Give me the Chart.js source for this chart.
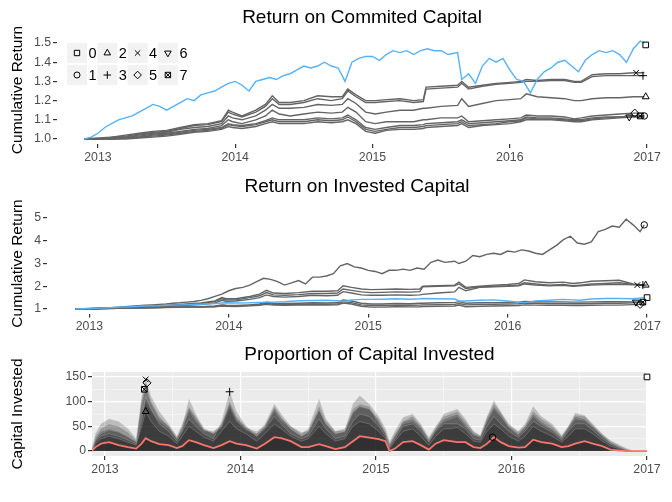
<!DOCTYPE html>
<html>
<head>
<meta charset="utf-8">
<script src="https://cdn.jsdelivr.net/npm/chart.js"></script>
<style>
  body { margin: 0; background: #fff; }
  #wrap { position: relative; width: 672px; height: 502px; }
  canvas { position: absolute; left: 0; }
</style>
</head>
<body>
<div id="wrap">
  <canvas id="committed" width="672" height="168" style="top:0"></canvas>
  <canvas id="invested" width="672" height="170" style="top:168px"></canvas>
  <canvas id="proportion" width="672" height="164" style="top:338px"></canvas>
</div>
<script>
const FONT = "'Liberation Sans', Arial, sans-serif";
const BLUE = '#56B1F7';
const GREY = '#646464';
const RED = '#F8766D';

// series keys and their point shapes
const seriesNames = ['0', '1', '2', '3', '4', '5', '6', '7'];
const seriesShapes = ['rect', 'circle', 'triangle', 'cross', 'crossRot', 'rectRot', 'triangle', 'rect'];
const shapeRotation = [0, 0, 0, 0, 0, 0, 180, 0];

const yearTicks = [2013, 2014, 2015, 2016, 2017];
const yearLabels = ['2013', '2014', '2015', '2016', '2017'];
const halfYears = [2013.5, 2014.5, 2015.5, 2016.5];

// dates (decimal years) for the benchmark line and the biggest invested line
const tBench = [
  2012.90, 2012.95, 2013.00, 2013.05, 2013.10, 2013.15, 2013.20, 2013.25, 2013.30, 2013.35,
  2013.40, 2013.45, 2013.50, 2013.55, 2013.60, 2013.65, 2013.70, 2013.75, 2013.80, 2013.85,
  2013.90, 2013.95, 2014.00, 2014.05, 2014.10, 2014.15, 2014.20, 2014.25, 2014.30, 2014.35,
  2014.40, 2014.45, 2014.50, 2014.55, 2014.60, 2014.65, 2014.70, 2014.75, 2014.80, 2014.85,
  2014.90, 2014.95, 2015.00, 2015.05, 2015.10, 2015.15, 2015.20, 2015.25, 2015.30, 2015.35,
  2015.40, 2015.45, 2015.50, 2015.55, 2015.62, 2015.65, 2015.70, 2015.75, 2015.80, 2015.85,
  2015.90, 2015.95, 2016.00, 2016.05, 2016.10, 2016.15, 2016.20, 2016.25, 2016.30, 2016.35,
  2016.40, 2016.45, 2016.50, 2016.55, 2016.60, 2016.65, 2016.70, 2016.75, 2016.80, 2016.85,
  2016.90, 2016.95, 2016.98
];

// dates for the other strategy lines
const tStrat = [
  2012.90, 2013.00, 2013.10, 2013.20, 2013.30, 2013.40, 2013.50, 2013.60, 2013.70, 2013.80,
  2013.90, 2013.95, 2013.98, 2014.05, 2014.15, 2014.22, 2014.27, 2014.32, 2014.40, 2014.50,
  2014.60, 2014.70, 2014.78, 2014.82, 2014.88, 2014.95, 2015.02, 2015.10, 2015.20, 2015.30,
  2015.37, 2015.39, 2015.50, 2015.62, 2015.65, 2015.70, 2015.80, 2015.90, 2016.00, 2016.08,
  2016.12, 2016.20, 2016.30, 2016.40, 2016.47, 2016.52, 2016.60, 2016.70, 2016.80, 2016.90,
  2016.98
];

// return on committed capital
const committed0 = [
  1.00, 1.01, 1.03, 1.06, 1.08, 1.10, 1.11, 1.12, 1.14, 1.16,
  1.18, 1.17, 1.15, 1.17, 1.19, 1.21, 1.20, 1.23, 1.24, 1.25,
  1.27, 1.29, 1.30, 1.28, 1.25, 1.30, 1.31, 1.32, 1.31, 1.33,
  1.34, 1.36, 1.38, 1.37, 1.38, 1.40, 1.38, 1.37, 1.30, 1.40,
  1.42, 1.43, 1.43, 1.41, 1.44, 1.46, 1.45, 1.46, 1.44, 1.46,
  1.47, 1.46, 1.46, 1.44, 1.45, 1.31, 1.34, 1.29, 1.38, 1.42,
  1.40, 1.42, 1.36, 1.31, 1.30, 1.24, 1.31, 1.35, 1.37, 1.40,
  1.41, 1.38, 1.35, 1.41, 1.44, 1.46, 1.45, 1.46, 1.44, 1.40,
  1.47, 1.51, 1.50
];
const committed1 = [
  1.00, 1.00, 1.00, 1.005, 1.01, 1.02, 1.025, 1.035, 1.045, 1.05,
  1.06, 1.08, 1.075, 1.07, 1.08, 1.095, 1.11, 1.10, 1.10, 1.10,
  1.11, 1.105, 1.11, 1.125, 1.10, 1.06, 1.05, 1.06, 1.07, 1.07,
  1.075, 1.08, 1.085, 1.09, 1.10, 1.08, 1.085, 1.09, 1.095, 1.10,
  1.115, 1.11, 1.11, 1.105, 1.10, 1.10, 1.11, 1.115, 1.115, 1.12,
  1.12
];
const committed2 = [
  1.00, 1.00, 1.005, 1.01, 1.02, 1.03, 1.035, 1.05, 1.06, 1.065,
  1.08, 1.12, 1.11, 1.10, 1.12, 1.15, 1.18, 1.16, 1.16, 1.165,
  1.18, 1.175, 1.18, 1.21, 1.185, 1.14, 1.13, 1.14, 1.15, 1.15,
  1.16, 1.16, 1.17, 1.175, 1.21, 1.17, 1.185, 1.20, 1.205, 1.21,
  1.235, 1.22, 1.215, 1.21, 1.20, 1.20, 1.21, 1.215, 1.215, 1.22,
  1.22
];
const committed3 = [
  1.00, 1.00, 1.01, 1.015, 1.025, 1.035, 1.04, 1.055, 1.07, 1.075,
  1.09, 1.14, 1.13, 1.115, 1.14, 1.17, 1.21, 1.18, 1.18, 1.19,
  1.21, 1.20, 1.21, 1.25, 1.22, 1.19, 1.19, 1.195, 1.20, 1.19,
  1.195, 1.26, 1.265, 1.27, 1.29, 1.26, 1.275, 1.285, 1.29, 1.295,
  1.30, 1.30, 1.305, 1.305, 1.295, 1.295, 1.325, 1.33, 1.33, 1.33,
  1.33
];
const committed4 = [
  1.00, 1.005, 1.01, 1.02, 1.03, 1.04, 1.045, 1.06, 1.075, 1.08,
  1.095, 1.15, 1.14, 1.12, 1.15, 1.18, 1.225, 1.19, 1.19, 1.20,
  1.225, 1.22, 1.22, 1.26, 1.23, 1.20, 1.20, 1.205, 1.21, 1.20,
  1.205, 1.27, 1.275, 1.28, 1.30, 1.27, 1.28, 1.29, 1.295, 1.30,
  1.31, 1.305, 1.31, 1.31, 1.30, 1.30, 1.335, 1.34, 1.34, 1.345,
  1.345
];
const committed5 = [
  1.00, 1.00, 1.005, 1.01, 1.015, 1.025, 1.03, 1.04, 1.05, 1.055,
  1.07, 1.10, 1.09, 1.08, 1.10, 1.12, 1.15, 1.13, 1.12, 1.13,
  1.14, 1.135, 1.14, 1.165, 1.14, 1.09, 1.08, 1.09, 1.09, 1.09,
  1.10, 1.10, 1.11, 1.11, 1.12, 1.09, 1.095, 1.10, 1.105, 1.11,
  1.125, 1.12, 1.12, 1.115, 1.105, 1.11, 1.12, 1.125, 1.13, 1.135,
  1.135
];
const committed6 = [
  1.00, 1.00, 1.00, 1.00, 1.005, 1.01, 1.015, 1.025, 1.035, 1.04,
  1.05, 1.065, 1.06, 1.055, 1.065, 1.08, 1.09, 1.08, 1.08, 1.08,
  1.09, 1.085, 1.09, 1.10, 1.08, 1.04, 1.03, 1.045, 1.05, 1.05,
  1.055, 1.06, 1.065, 1.07, 1.08, 1.06, 1.07, 1.075, 1.08, 1.09,
  1.10, 1.10, 1.10, 1.095, 1.09, 1.09, 1.10, 1.105, 1.11, 1.115,
  1.115
];
const committed7 = [
  1.00, 1.00, 1.00, 1.005, 1.01, 1.015, 1.02, 1.03, 1.04, 1.045,
  1.055, 1.075, 1.07, 1.065, 1.075, 1.09, 1.10, 1.09, 1.09, 1.09,
  1.10, 1.095, 1.10, 1.115, 1.09, 1.05, 1.04, 1.05, 1.06, 1.06,
  1.065, 1.07, 1.075, 1.08, 1.09, 1.07, 1.075, 1.08, 1.09, 1.095,
  1.11, 1.105, 1.105, 1.10, 1.095, 1.095, 1.105, 1.11, 1.115, 1.12,
  1.12
];
const committedMarkX = [2016.99, 2016.98, 2016.99, 2016.97, 2016.92, 2016.91, 2016.87, 2016.95];
const committedMarkY = [1.49, 1.12, 1.22, 1.33, 1.345, 1.135, 1.115, 1.12];

// return on invested capital
const invested0 = [
  1.00, 1.02, 1.04, 1.07, 1.10, 1.13, 1.14, 1.17, 1.19, 1.21,
  1.24, 1.26, 1.27, 1.26, 1.27, 1.29, 1.30, 1.30, 1.32, 1.36,
  1.37, 1.38, 1.36, 1.33, 1.40, 1.42, 1.42, 1.43, 1.45, 1.43,
  1.45, 1.46, 1.45, 1.44, 1.35, 1.35, 1.38, 1.40, 1.35, 1.30,
  1.28, 1.35, 1.38, 1.42, 1.40, 1.38, 1.44, 1.46, 1.46, 1.45,
  1.50
];
const invested1 = [
  1.00, 1.01, 1.02, 1.03, 1.05, 1.06, 1.08, 1.10, 1.12, 1.14,
  1.16, 1.18, 1.20, 1.22, 1.25, 1.27, 1.30, 1.33, 1.38, 1.45,
  1.55, 1.65, 1.80, 1.90, 1.95, 2.05, 2.20, 2.35, 2.30, 2.20,
  2.05, 2.15, 2.25, 2.10, 2.40, 2.40, 2.45, 2.55, 2.90, 3.00,
  2.85, 2.80, 2.70, 2.65, 2.55, 2.70, 2.70, 2.75, 2.70, 2.80,
  2.75, 3.05, 3.15, 3.05, 3.10, 3.00, 3.10, 3.35, 3.30, 3.40,
  3.45, 3.40, 3.55, 3.50, 3.60, 3.55, 3.45, 3.40, 3.60, 3.80,
  4.05, 4.20, 3.90, 3.85, 3.95, 4.40, 4.50, 4.65, 4.60, 4.95,
  4.70, 4.40, 4.70
];
const invested2 = [
  1.00, 1.01, 1.02, 1.04, 1.06, 1.08, 1.10, 1.13, 1.16, 1.19,
  1.26, 1.38, 1.34, 1.35, 1.42, 1.50, 1.62, 1.55, 1.52, 1.55,
  1.60, 1.58, 1.60, 1.76, 1.70, 1.62, 1.60, 1.60, 1.62, 1.60,
  1.62, 1.64, 1.70, 1.75, 1.95, 1.80, 1.95, 1.98, 2.00, 2.02,
  2.10, 2.05, 2.02, 2.04, 2.00, 2.02, 2.05, 2.07, 2.08, 2.06,
  2.05
];
const invested3 = [
  1.00, 1.01, 1.03, 1.05, 1.07, 1.10, 1.12, 1.16, 1.20, 1.24,
  1.32, 1.45, 1.40, 1.40, 1.50, 1.58, 1.72, 1.62, 1.60, 1.63,
  1.68, 1.68, 1.70, 1.88, 1.82, 1.75, 1.72, 1.73, 1.75, 1.74,
  1.76, 1.97, 2.00, 2.02, 2.10, 1.90, 1.97, 2.00, 2.02, 2.05,
  2.15, 2.10, 2.05, 2.08, 2.02, 2.05, 2.10, 2.12, 2.15, 2.08,
  2.05
];
const invested4 = [
  1.00, 1.01, 1.03, 1.05, 1.08, 1.11, 1.13, 1.17, 1.22, 1.26,
  1.35, 1.50, 1.45, 1.45, 1.55, 1.65, 1.82, 1.70, 1.68, 1.72,
  1.78, 1.78, 1.80, 2.02, 1.95, 1.88, 1.85, 1.86, 1.88, 1.86,
  1.88, 2.00, 2.02, 2.05, 2.18, 1.95, 2.00, 2.05, 2.08, 2.12,
  2.28, 2.20, 2.15, 2.18, 2.12, 2.15, 2.22, 2.24, 2.26, 2.10,
  2.05
];
const invested5 = [
  1.00, 1.01, 1.02, 1.03, 1.04, 1.05, 1.06, 1.07, 1.08, 1.08,
  1.10, 1.13, 1.12, 1.11, 1.14, 1.16, 1.20, 1.17, 1.16, 1.17,
  1.18, 1.17, 1.18, 1.26, 1.22, 1.12, 1.08, 1.08, 1.10, 1.09,
  1.10, 1.11, 1.12, 1.13, 1.17, 1.10, 1.12, 1.13, 1.14, 1.15,
  1.18, 1.17, 1.16, 1.16, 1.15, 1.15, 1.16, 1.17, 1.17, 1.19,
  1.20
];
const invested6 = [
  1.00, 1.01, 1.02, 1.03, 1.04, 1.05, 1.06, 1.08, 1.09, 1.10,
  1.13, 1.18, 1.16, 1.15, 1.18, 1.22, 1.30, 1.25, 1.24, 1.25,
  1.27, 1.26, 1.27, 1.40, 1.35, 1.25, 1.22, 1.22, 1.24, 1.23,
  1.25, 1.25, 1.27, 1.28, 1.32, 1.25, 1.27, 1.28, 1.29, 1.30,
  1.33, 1.32, 1.31, 1.31, 1.30, 1.30, 1.31, 1.32, 1.32, 1.31,
  1.30
];
const invested7 = [
  1.00, 1.01, 1.02, 1.03, 1.04, 1.05, 1.06, 1.07, 1.08, 1.09,
  1.11, 1.15, 1.14, 1.13, 1.16, 1.19, 1.25, 1.21, 1.20, 1.21,
  1.22, 1.21, 1.22, 1.32, 1.28, 1.18, 1.15, 1.15, 1.17, 1.16,
  1.17, 1.18, 1.19, 1.20, 1.24, 1.18, 1.20, 1.21, 1.22, 1.23,
  1.26, 1.25, 1.24, 1.24, 1.23, 1.23, 1.24, 1.25, 1.25, 1.27,
  1.30
];
const investedMarkX = [2017.0, 2016.98, 2016.99, 2016.97, 2016.93, 2016.95, 2016.92, 2016.97];
const investedMarkY = [1.5, 4.7, 2.05, 2.05, 2.05, 1.2, 1.3, 1.3];

// capital invested per strategy
const tCapital = [
  2012.90, 2012.93, 2012.97, 2013.03, 2013.10, 2013.17, 2013.23, 2013.27, 2013.30, 2013.34,
  2013.40, 2013.47, 2013.53, 2013.57, 2013.62, 2013.67, 2013.73, 2013.80, 2013.86, 2013.92,
  2013.97, 2014.04, 2014.12, 2014.18, 2014.25, 2014.30, 2014.37, 2014.45, 2014.50, 2014.58,
  2014.63, 2014.70, 2014.77, 2014.83, 2014.88, 2014.95, 2015.02, 2015.07, 2015.10, 2015.14,
  2015.20, 2015.27, 2015.33, 2015.39, 2015.44, 2015.50, 2015.55, 2015.60, 2015.66, 2015.72,
  2015.77, 2015.82, 2015.87, 2015.92, 2015.98, 2016.05, 2016.10, 2016.16, 2016.22, 2016.30,
  2016.37, 2016.42, 2016.47, 2016.54, 2016.60, 2016.67, 2016.73, 2016.80, 2016.85, 2016.90,
  2017.00
];
const capital1 = [
  0, 8, 15, 18, 12, 8, 5, 15, 26, 20,
  14, 12, 6, 10, 22, 18, 12, 6, 12, 20,
  15, 12, 5, 15, 28, 26, 20, 8, 8, 14,
  10, 4, 8, 20, 30, 27, 24, 20, 0, 5,
  18, 20, 12, 3, 15, 22, 20, 18, 18, 8,
  6, 15, 28, 18, 10, 7, 8, 23, 18, 15,
  8, 10, 15, 20, 15, 10, 3, 1, 0, 0,
  0
];
const capital2 = [
  0, 15, 25, 30, 25, 18, 12, 50, 80, 60,
  40, 30, 15, 30, 50, 40, 28, 20, 40, 60,
  45, 35, 20, 35, 55, 45, 30, 20, 25, 50,
  35, 20, 25, 50, 60, 55, 40, 25, 5, 20,
  40, 45, 30, 12, 30, 45, 45, 48, 35, 20,
  18, 40, 55, 45, 30, 20, 30, 50, 40, 30,
  18, 30, 45, 45, 35, 20, 10, 4, 1, 0,
  0
];
const capital3 = [
  0, 20, 30, 35, 30, 22, 15, 60, 110, 85,
  55, 40, 20, 40, 65, 50, 35, 25, 60, 120,
  80, 50, 30, 45, 70, 55, 35, 25, 30, 65,
  45, 25, 30, 60, 75, 70, 50, 30, 8, 25,
  50, 55, 40, 18, 40, 55, 55, 55, 45, 25,
  22, 50, 70, 55, 40, 28, 40, 60, 50, 38,
  22, 40, 55, 55, 42, 25, 14, 6, 2, 0,
  0
];
const capital4 = [
  0, 25, 40, 45, 40, 30, 20, 110, 145, 110,
  80, 55, 30, 55, 90, 70, 45, 35, 50, 100,
  70, 45, 30, 50, 90, 70, 45, 30, 40, 85,
  55, 35, 40, 80, 90, 85, 65, 40, 15, 35,
  60, 65, 50, 25, 45, 65, 70, 75, 55, 35,
  30, 65, 90, 75, 50, 35, 50, 75, 60, 45,
  28, 50, 70, 65, 50, 32, 18, 8, 3, 0,
  0
];
const capital5 = [
  0, 22, 35, 42, 38, 28, 18, 100, 138, 100,
  70, 50, 25, 50, 105, 75, 45, 38, 55, 95,
  65, 50, 35, 55, 95, 75, 50, 35, 45, 105,
  65, 40, 45, 85, 95, 90, 60, 35, 10, 30,
  55, 60, 45, 20, 42, 60, 65, 70, 50, 32,
  28, 60, 85, 70, 48, 32, 45, 70, 55, 42,
  25, 45, 65, 62, 48, 30, 16, 7, 2, 0,
  0
];
const capital6 = [
  0, 30, 45, 55, 50, 38, 22, 70, 100, 80,
  60, 45, 25, 45, 80, 60, 40, 40, 50, 90,
  60, 45, 40, 50, 85, 65, 50, 38, 40, 90,
  60, 40, 42, 95, 112, 95, 70, 45, 20, 40,
  68, 75, 55, 28, 50, 70, 75, 80, 60, 40,
  32, 70, 102, 80, 55, 40, 55, 90, 70, 55,
  32, 50, 77, 72, 55, 35, 20, 10, 4, 0,
  0
];
const capital7 = [
  0, 35, 55, 65, 60, 45, 25, 95, 125, 95,
  65, 50, 28, 40, 85, 65, 42, 35, 45, 85,
  60, 40, 35, 45, 80, 60, 45, 30, 35, 80,
  55, 35, 38, 75, 90, 85, 55, 35, 12, 30,
  60, 70, 50, 22, 45, 75, 80, 85, 65, 38,
  30, 68, 95, 78, 52, 38, 50, 80, 65, 50,
  30, 48, 72, 70, 52, 33, 22, 12, 5, 0,
  0
];
// peak markers; series 6 has none drawn
const capitalMarkX = [2017.0, 2015.86, 2013.30, 2013.92, 2013.30, 2013.31, null, 2013.29];
const capitalMarkY = [150, 28, 80, 120, 145, 138, null, 125];

const pts = (xs, ys) => xs.map((x, i) => ({x: x, y: ys[i]}));

function lineSet(xs, ys, color, order) {
  return {
    type: 'line', data: pts(xs, ys), borderColor: color, borderWidth: 1.4,
    pointRadius: 0, tension: 0, fill: false, order: order
  };
}

function markerSet(x, y, shape, rot) {
  return {
    type: 'scatter', data: [{x: x, y: y}], pointStyle: shape, pointRotation: rot,
    pointRadius: shape === 'circle' ? 3.2 : 4, pointBorderColor: '#000',
    pointBackgroundColor: 'rgba(0,0,0,0)', pointBorderWidth: 1, clip: false, order: 0
  };
}

function markerSets(xs, ys) {
  const sets = [];
  xs.forEach((x, i) => {
    if (x === null) return;
    sets.push(markerSet(x, ys[i], seriesShapes[i], shapeRotation[i]));
    if (i === 7) sets.push(markerSet(x, ys[i], 'crossRot', 0));
  });
  return sets;
}

function drawShape(ctx, i, x, y, r) {
  const opts = {pointStyle: seriesShapes[i], rotation: shapeRotation[i], radius: seriesShapes[i] === 'circle' ? r * 0.8 : r, borderWidth: 1};
  Chart.helpers.drawPoint(ctx, opts, x, y);
  if (i === 7) Chart.helpers.drawPoint(ctx, {pointStyle: 'crossRot', rotation: 0, radius: r, borderWidth: 1}, x, y);
}

// two-row key of point shapes inside the top panel
const shapeKey = {
  id: 'shapeKey',
  afterDraw(chart) {
    const {ctx, chartArea} = chart;
    ctx.save();
    seriesNames.forEach((name, i) => {
      const col = Math.floor(i / 2), row = i % 2;
      const x = chartArea.left + 10 + col * 30.3;
      const y = chartArea.top + 7 + row * 22;
      ctx.fillStyle = '#F2F2F2';
      ctx.fillRect(x, y, 20, 20);
      ctx.fillStyle = 'rgba(0,0,0,0)';
      ctx.strokeStyle = '#000';
      ctx.lineWidth = 1;
      drawShape(ctx, i, x + 10, y + 10, 3.8);
      ctx.fillStyle = '#000';
      ctx.font = '14.5px ' + FONT;
      ctx.textBaseline = 'middle';
      ctx.textAlign = 'left';
      ctx.fillText(name, x + 21.5, y + 11);
    });
    ctx.restore();
  }
};

const panelBackground = {
  id: 'panelBackground',
  beforeDraw(chart, args, opts) {
    if (!opts.color) return;
    const {ctx, chartArea: a} = chart;
    ctx.save();
    ctx.fillStyle = opts.color;
    ctx.fillRect(a.left, a.top, a.right - a.left, a.bottom - a.top);
    ctx.restore();
  }
};

const isMinor = (list, c) => c.tick && list.indexOf(c.tick.value) >= 0;

function yearAxis(min, max, height, gridOn) {
  return {
    type: 'linear', min: min, max: max,
    afterBuildTicks: s => { s.ticks = (gridOn ? yearTicks.concat(halfYears) : yearTicks).map(v => ({value: v})); },
    afterFit: s => { s.height = height; },
    ticks: {
      padding: 2, color: '#4D4D4D', font: {family: FONT, size: 12.3}, autoSkip: false, maxRotation: 0,
      callback: v => yearLabels[yearTicks.indexOf(v)] || ''
    },
    grid: {
      drawOnChartArea: gridOn, tickLength: 4,
      color: c => isMinor(halfYears, c) ? 'rgba(255,255,255,0.75)' : '#FFFFFF',
      lineWidth: c => isMinor(halfYears, c) ? 0.6 : 1.2,
      tickColor: c => isMinor(halfYears, c) ? 'rgba(0,0,0,0)' : '#333333'
    },
    border: {display: false}
  };
}

function valueAxis(min, max, width, ticks, labels, minors, title) {
  return {
    type: 'linear', min: min, max: max,
    afterBuildTicks: s => { s.ticks = ticks.concat(minors).map(v => ({value: v})); },
    afterFit: s => { s.width = width; },
    ticks: {
      padding: 2, color: '#4D4D4D', font: {family: FONT, size: 12.3}, autoSkip: false,
      callback: v => labels[ticks.indexOf(v)] || ''
    },
    grid: {
      drawOnChartArea: minors.length > 0, tickLength: 4,
      color: c => isMinor(minors, c) ? 'rgba(255,255,255,0.75)' : '#FFFFFF',
      lineWidth: c => isMinor(minors, c) ? 0.6 : 1.2,
      tickColor: c => isMinor(minors, c) ? 'rgba(0,0,0,0)' : '#333333'
    },
    border: {display: false},
    title: {display: true, text: title, color: '#000', font: {family: FONT, size: 15.5}, padding: {top: 8.5, bottom: 0}}
  };
}

function baseOptions(title, pad, right, scales, bg) {
  return {
    responsive: false, animation: false, events: [],
    layout: {padding: {left: 0, right: right, top: 0, bottom: 0}},
    plugins: {
      legend: {display: false}, tooltip: {enabled: false},
      title: {display: true, text: title, color: '#000', fullSize: false,
              font: {family: FONT, size: 19, weight: 'normal'}, padding: pad},
      panelBackground: {color: bg}
    },
    scales: scales
  };
}

Chart.register(panelBackground);

const committedLines = [committed1, committed2, committed3, committed4, committed5, committed6, committed7];
new Chart(document.getElementById('committed'), {
  type: 'line',
  data: {
    datasets: markerSets(committedMarkX, committedMarkY)
      .concat([lineSet(tBench, committed0, BLUE, 1)])
      .concat(committedLines.map(s => lineSet(tStrat, s, GREY, 2)))
  },
  options: baseOptions('Return on Commited Capital', {top: 6.6, bottom: 6.6}, 4, {
    x: yearAxis(2012.702, 2017.145, 24, false),
    y: valueAxis(0.974, 1.5365, 57, [1.0, 1.1, 1.2, 1.3, 1.4, 1.5], ['1.0', '1.1', '1.2', '1.3', '1.4', '1.5'], [], 'Cumulative Return')
  }, null),
  plugins: [shapeKey]
});

const investedLines = [invested2, invested3, invested4, invested5, invested6, invested7];
new Chart(document.getElementById('invested'), {
  type: 'line',
  data: {
    datasets: markerSets(investedMarkX, investedMarkY)
      .concat([lineSet(tStrat, invested0, BLUE, 1)])
      .concat([lineSet(tBench, invested1, GREY, 2)])
      .concat(investedLines.map(s => lineSet(tStrat, s, GREY, 2)))
  },
  options: baseOptions('Return on Invested Capital', {top: 7.6, bottom: 15.1}, 4, {
    x: yearAxis(2012.696, 2017.143, 24.5, false),
    y: valueAxis(0.8, 5.2, 47, [1, 2, 3, 4, 5], ['1', '2', '3', '4', '5'], [], 'Cumulative Return')
  }, null)
});

const capitalSeries = [capital2, capital3, capital4, capital5, capital6, capital7];
const areaSet = (ys, border, width, order) => ({
  type: 'line', data: pts(tCapital, ys), fill: 'origin', backgroundColor: 'rgba(0,0,0,0.2)',
  borderColor: border, borderWidth: width, pointRadius: 0, tension: 0, order: order
});
new Chart(document.getElementById('proportion'), {
  type: 'line',
  data: {
    datasets: markerSets(capitalMarkX, capitalMarkY)
      .concat([areaSet(capital1, RED, 1.8, 1)])
      .concat(capitalSeries.map(s => areaSet(s, 'rgba(200,200,200,0.45)', 0.6, 2)))
  },
  options: baseOptions('Proportion of Capital Invested', {top: 5.6, bottom: 5.6}, 25, {
    x: yearAxis(2012.904, 2017.0, 46, true),
    y: valueAxis(-10, 160, 92, [0, 50, 100, 150], ['0', '50', '100', '150'], [25, 75, 125], 'Capital Invested')
  }, '#EBEBEB')
});
</script>
</body>
</html>
